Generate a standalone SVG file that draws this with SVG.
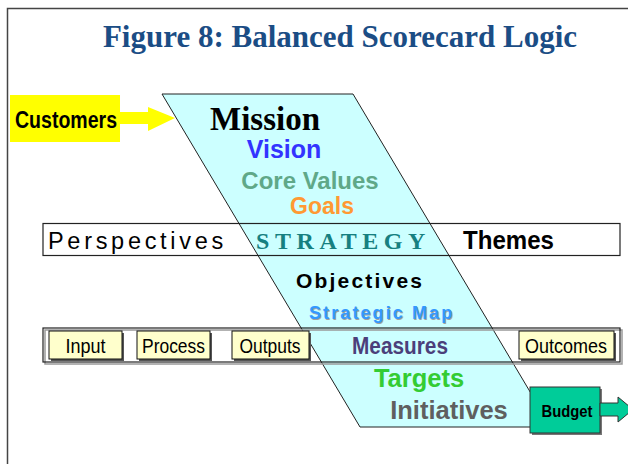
<svg xmlns="http://www.w3.org/2000/svg" width="628" height="464" viewBox="0 0 628 464">
<style>
.sans{font-family:"Liberation Sans",Arial,sans-serif}
.serif{font-family:"Liberation Serif","Times New Roman",serif}
.b{font-weight:bold}
.band{fill:none;stroke:#222;stroke-width:1.2}
.ybox{fill:#FFFFCC;stroke:#111;stroke-width:1}
.shadow{fill:#555}
.boxtxt{font-family:"Liberation Sans",Arial,sans-serif;font-size:21px;fill:#000;text-anchor:middle}
.mid{text-anchor:middle}
</style>
<rect width="628" height="464" fill="#fff"/>
<path d="M7.5,464 V8.5 H628" fill="none" stroke="#444" stroke-width="1.5"/>
<g id="title"><text class="serif b mid" x="340" y="47" font-size="31" fill="#1B4D85">Figure 8: Balanced Scorecard Logic</text></g>

<g id="bands-bg">
<rect x="43" y="223.5" width="577" height="32" fill="#fff"/>
<rect x="43" y="328" width="577" height="34" fill="#fff"/>
</g>

<g id="scorecard">
<polygon points="162,94 353,94 551,427 360,427" fill="#CCFFFF" stroke="#222" stroke-width="1"/>
<text class="serif b mid" x="265" y="130" font-size="33" fill="#000">Mission</text>
<text class="sans b mid" x="284" y="158" font-size="25" fill="#3333FF">Vision</text>
<text class="sans b mid" x="310" y="189" font-size="24" fill="#5FA888">Core Values</text>
<text class="sans b mid" x="322" y="214" font-size="23" fill="#FF9933">Goals</text>
</g>

<g id="perspectives-band">
<rect class="band" x="43" y="223.5" width="577" height="32"/>
<text class="sans" x="48" y="249" font-size="23.5" letter-spacing="3.7" fill="#000">Perspectives</text>
<text class="serif b" x="256" y="249" font-size="24" letter-spacing="5.6" fill="#168080">STRATEGY</text>
<text class="sans b" x="463" y="248.5" font-size="25" fill="#000" textLength="91" lengthAdjust="spacingAndGlyphs">Themes</text>
</g>

<g id="objectives">
<text class="sans b" x="296" y="288" font-size="21" letter-spacing="2.2" fill="#000">Objectives</text>
<text class="sans b" x="310" y="320" font-size="18" letter-spacing="2.1" fill="#A0A0A0">Strategic Map</text>
<text class="sans b" x="309" y="319" font-size="18" letter-spacing="2.1" fill="#3399FF">Strategic Map</text>
</g>

<g id="measures-band">
<rect x="45" y="330" width="577" height="34" fill="none" stroke="#999" stroke-width="1.5"/>
<rect class="band" x="43" y="328" width="577" height="34" stroke-width="1.5"/>
<text class="sans b mid" x="400" y="354" font-size="23" fill="#4B3F7A" textLength="96" lengthAdjust="spacingAndGlyphs">Measures</text>
</g>

<g id="input">
<rect class="shadow" x="51" y="333" width="73" height="28"/>
<rect class="ybox" x="49" y="331" width="73" height="28"/>
<text class="boxtxt" x="85.5" y="352.5" textLength="40" lengthAdjust="spacingAndGlyphs">Input</text>
</g>
<g id="process">
<rect class="shadow" x="139" y="333" width="73" height="28"/>
<rect class="ybox" x="137" y="331" width="73" height="28"/>
<text class="boxtxt" x="173.5" y="352.5" textLength="63" lengthAdjust="spacingAndGlyphs">Process</text>
</g>
<g id="outputs">
<rect class="shadow" x="234" y="333" width="77" height="28"/>
<rect class="ybox" x="232" y="331" width="77" height="28"/>
<text class="boxtxt" x="270" y="352.5" textLength="61" lengthAdjust="spacingAndGlyphs">Outputs</text>
</g>
<g id="outcomes">
<rect class="shadow" x="521" y="333" width="95" height="28"/>
<rect class="ybox" x="519" y="331" width="95" height="28"/>
<text class="boxtxt" x="566" y="352.5" textLength="82" lengthAdjust="spacingAndGlyphs">Outcomes</text>
</g>

<g id="targets">
<text class="sans b mid" x="419" y="387" font-size="25.5" fill="#33CC33">Targets</text>
<text class="sans b mid" x="449" y="419" font-size="25.5" fill="#5F5F5F">Initiatives</text>
</g>

<g id="customers">
<rect x="10" y="95" width="110" height="47" fill="#FFFF00"/>
<text class="sans b" x="15" y="128" font-size="23" fill="#000" textLength="102" lengthAdjust="spacingAndGlyphs">Customers</text>
</g>

<g id="budget">
<rect x="532" y="389" width="70" height="46" fill="#777"/>
<rect x="530" y="387" width="70" height="46" fill="#00CC99" stroke="#333" stroke-width="1"/>
<text class="sans b mid" x="567" y="417" font-size="17" fill="#000" textLength="51" lengthAdjust="spacingAndGlyphs">Budget</text>
</g>

<g id="connectors">
<polygon points="120,112 148,112 148,107 175,118 148,131 148,124 120,124" fill="#FFFF00"/>
<polygon points="600,403 618,403 618,397 633,409.5 618,422 618,416 600,416" fill="#00CC99" stroke="#333" stroke-width="1"/>
</g>
</svg>
